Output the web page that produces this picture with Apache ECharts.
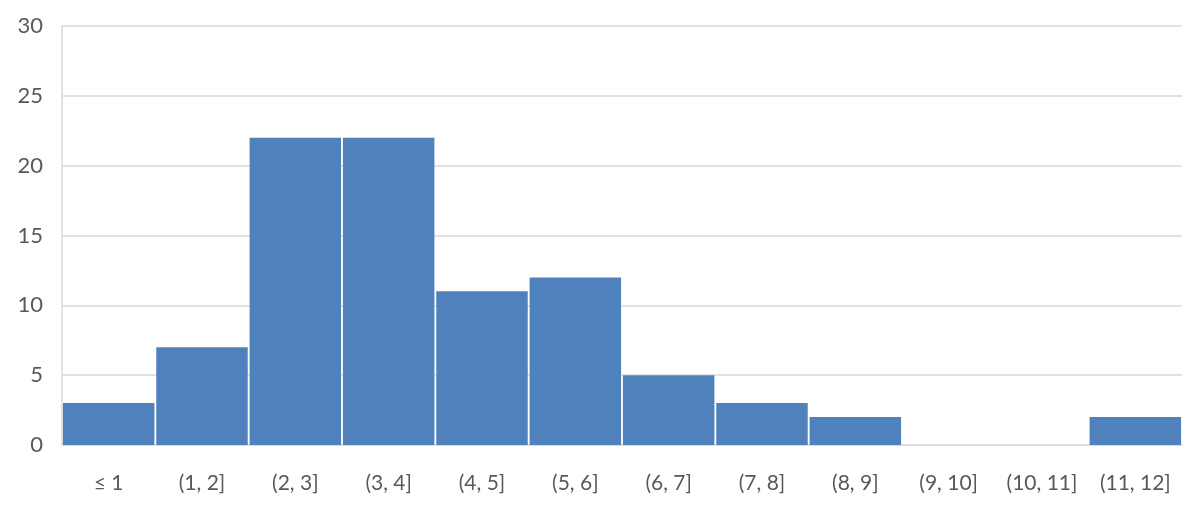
<!DOCTYPE html>
<html>
<head>
<meta charset="utf-8">
<script src="https://cdn.jsdelivr.net/npm/echarts@6/dist/echarts.min.js"></script>
<style>
  html, body { margin: 0; padding: 0; background: #fff; }
  #chart { width: 1200px; height: 512px; }
</style>
</head>
<body>
<div id="chart"></div>
<script>
const categories = ["≤ 1", "(1, 2]", "(2, 3]", "(3, 4]", "(4, 5]", "(5, 6]", "(6, 7]", "(7, 8]", "(8, 9]", "(9, 10]", "(10, 11]", "(11, 12]"];
const counts = [3, 7, 22, 22, 11, 12, 5, 3, 2, 0, 0, 2];

const chart = echarts.init(document.getElementById("chart"));
const option = {
    animation: false,
    textStyle: { fontFamily: "Lato, 'Noto Sans', sans-serif" },
    grid: { left: 62, right: 18, top: 26, bottom: 67 },
    xAxis: {
        type: "category",
        data: categories,
        axisLine: { lineStyle: { color: "#d9d9d9", width: 1.5 } },
        axisTick: { show: false },
        axisLabel: { color: "#595959", fontSize: 21, margin: 28, interval: 0 },
    },
    yAxis: {
        type: "value",
        min: 0,
        max: 30,
        interval: 5,
        axisLine: { show: true, lineStyle: { color: "#d9d9d9", width: 1.5 } },
        axisTick: { show: false },
        splitLine: { lineStyle: { color: "#d9d9d9", width: 1.5 } },
        axisLabel: { color: "#595959", fontSize: 22, margin: 19 },
    },
    series: [
        {
            type: "bar",
            data: counts,
            barCategoryGap: "2%",
            itemStyle: { color: "#4f81bd" },
        },
    ],
};
chart.setOption(option);
</script>
</body>
</html>
